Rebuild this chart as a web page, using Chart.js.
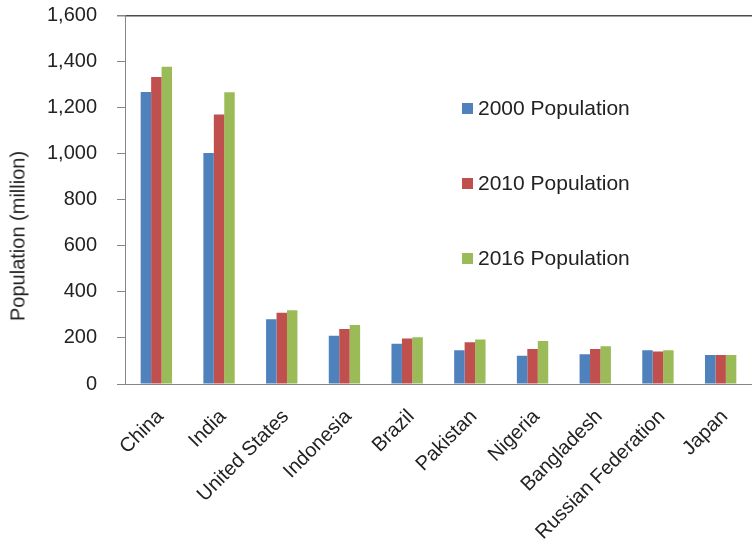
<!DOCTYPE html>
<html>
<head>
<meta charset="utf-8">
<script src="https://cdn.jsdelivr.net/npm/chart.js@4/dist/chart.umd.min.js"></script>
<style>
  html, body { margin: 0; padding: 0; background: #fff; }
  #wrap { position: relative; width: 752px; height: 550px; font-family: "Liberation Sans", Arial, sans-serif; color: #222; }
  #yTitle {
    position: absolute; left: 18px; top: 236px;
    transform: translate(-50%, -50%) rotate(-90deg);
    font-size: 20px; white-space: nowrap;
  }
  #legend { position: absolute; left: 462px; top: 0; }
  .item { position: absolute; left: 0; display: flex; align-items: center; white-space: nowrap; font-size: 21px; transform: translateY(-50%); }
  .item span.box { width: 11px; height: 11px; margin-right: 5px; display: inline-block; }
</style>
</head>
<body>
<div id="wrap">
  <canvas id="chart" width="752" height="550"></canvas>
  <div id="yTitle">Population (million)</div>
  <div id="legend"></div>
</div>
<script>
const countries = ['China', 'India', 'United States', 'Indonesia', 'Brazil', 'Pakistan', 'Nigeria', 'Bangladesh', 'Russian Federation', 'Japan']
const pop2000 = [1268, 1003, 281, 210, 175, 146, 123, 129, 146, 126]
const pop2010 = [1333, 1170, 309, 239, 198, 181, 152, 152, 141, 126]
const pop2016 = [1378, 1267, 320, 256, 203, 193, 187, 164, 146, 126]
const seriesNames = ['2000 Population', '2010 Population', '2016 Population']
const colors = ['#4F81BD', '#C0504D', '#9BBB59']
const legendRows = [108, 183, 258]

const axisGray = '#868686'

const chart = new Chart(document.getElementById('chart'), {
  type: 'bar',
  data: {
    labels: countries,
    datasets: [pop2000, pop2010, pop2016].map((d, i) => ({
      label: seriesNames[i],
      data: d,
      backgroundColor: colors[i],
      borderWidth: 0,
      categoryPercentage: 0.5,
      barPercentage: 1
    }))
  },
  options: {
    responsive: false,
    animation: false,
    layout: { padding: { top: 15.5, left: 0, right: 0, bottom: 0 } },
    plugins: {
      legend: { display: false },
      tooltip: { enabled: false }
    },
    scales: {
      x: {
        grid: { display: false },
        border: { color: axisGray, width: 1 },
        ticks: {
          minRotation: 45,
          maxRotation: 45,
          padding: 13,
          labelOffset: 4,
          color: '#222',
          font: { family: '"Liberation Sans", Arial', size: 20 }
        },
        afterFit(scale) {
          scale.height = 166
          scale.paddingRight = 0
        }
      },
      y: {
        min: 0,
        max: 1600,
        ticks: {
          stepSize: 200,
          padding: 20,
          color: '#222',
          font: { family: '"Liberation Sans", Arial', size: 20 }
        },
        grid: {
          color: (ctx) => (ctx.tick && ctx.tick.value === 1600 ? '#4a4a4a' : 'rgba(0,0,0,0)'),
          lineWidth: (ctx) => (ctx.tick && ctx.tick.value === 1600 ? 1.5 : 1),
          tickColor: axisGray,
          tickLength: 8
        },
        border: { color: axisGray, width: 1 },
        afterFit(scale) {
          scale.width = 125
          scale.paddingTop = 0
          scale.paddingBottom = 0
        }
      }
    }
  }
})

const legend = document.getElementById('legend')
chart.data.datasets.forEach((ds, i) => {
  const item = document.createElement('div')
  item.className = 'item'
  item.style.top = legendRows[i] + 'px'
  item.innerHTML = '<span class="box" style="background:' + ds.backgroundColor + '"></span>' + ds.label
  legend.appendChild(item)
})
</script>
</body>
</html>
